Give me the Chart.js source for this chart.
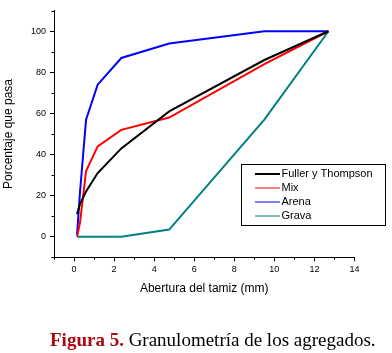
<!DOCTYPE html>
<html>
<head>
<meta charset="utf-8">
<script src="https://cdn.jsdelivr.net/npm/chart.js@4.4.1/dist/chart.umd.min.js"></script>
<style>
html,body{margin:0;padding:0;background:#fff;}
#wrap{position:relative;width:392px;height:353px;overflow:hidden;}
#c{display:block;position:absolute;left:0;top:0;}
#cap{position:absolute;left:50px;top:330px;white-space:nowrap;font-family:"Liberation Serif","Times New Roman",serif;font-size:19px;line-height:19px;color:#000;}
#cap b{color:#aa0a14;}
</style>
</head>
<body>
<div id="wrap">
<canvas id="c" width="392" height="353"></canvas>
<div id="cap"><b>Figura 5.</b> Granulometría de los agregados.</div>
</div>
<script>
// Sieve openings (mm)
const sieveSizes = [0.15, 0.3, 0.6, 1.18, 2.36, 4.75, 9.5, 12.7];
// Percent passing per series
const fullerThompson = [11, 16, 22, 31, 43, 61, 86, 100];
const mix            = [0, 7, 32, 44, 52, 58, 84, 100];
const arena          = [1, 22, 57, 74, 87, 94, 100, 100];
const grava          = [0, 0, 0, 0, 0, 3.5, 57, 100];
const seriesLabels = ["Fuller y Thompson", "Mix", "Arena", "Grava"];
// Tick labels
const xTickValues = [0, 2, 4, 6, 8, 10, 12, 14];
const yTickValues = [0, 20, 40, 60, 80, 100];
const xMinorTicks = [-1, 1, 3, 5, 7, 9, 11, 13];
const yMinorTicks = [-10, 10, 30, 50, 70, 90, 110];

const colors = ["#000000", "#ff0000", "#0000ff", "#008080"];
const legendWidths = [2, 1, 1, 1];
const seriesValues = [fullerThompson, mix, arena, grava];

const datasets = seriesValues.map((vals, i) => ({
  label: seriesLabels[i],
  data: sieveSizes.map((x, j) => ({x: x, y: vals[j]})),
  borderColor: colors[i],
  backgroundColor: colors[i],
  borderWidth: 2,
  pointRadius: 0,
  tension: 0,
  fill: false
}));

const FONT = "'Liberation Sans', Arial, sans-serif";

const extras = {
  id: 'extras',
  afterDraw(chart) {
    const ctx = chart.ctx;
    const xs = chart.scales.x, ys = chart.scales.y;
    const ca = chart.chartArea;
    ctx.save();
    ctx.strokeStyle = '#000';
    ctx.lineWidth = 1;
    // minor ticks
    xMinorTicks.forEach(v => {
      const px = Math.round(xs.getPixelForValue(v)) + 0.5;
      ctx.beginPath();
      ctx.moveTo(px, ca.bottom);
      ctx.lineTo(px, ca.bottom + 2.5);
      ctx.stroke();
    });
    yMinorTicks.forEach(v => {
      const py = Math.round(ys.getPixelForValue(v)) + 0.5;
      ctx.beginPath();
      ctx.moveTo(ca.left - 2.5, py);
      ctx.lineTo(ca.left, py);
      ctx.stroke();
    });
    // legend box
    const bx = 241.5, by = 164.5, bw = 144, bh = 61;
    ctx.fillStyle = '#fff';
    ctx.fillRect(bx, by, bw, bh);
    ctx.strokeRect(bx, by, bw, bh);
    ctx.font = "11px " + FONT;
    ctx.textBaseline = 'middle';
    ctx.textAlign = 'left';
    chart.data.datasets.forEach((ds, i) => {
      const yy = 174 + i * 14;
      ctx.strokeStyle = ds.borderColor;
      ctx.lineWidth = legendWidths[i];
      ctx.beginPath();
      ctx.moveTo(255, yy);
      ctx.lineTo(280, yy);
      ctx.stroke();
      ctx.fillStyle = '#000';
      ctx.fillText(ds.label, 281.5, yy);
    });
    ctx.restore();
  }
};

new Chart(document.getElementById('c'), {
  type: 'line',
  data: { datasets: datasets },
  options: {
    responsive: false,
    animation: false,
    devicePixelRatio: 1,
    layout: { padding: { left: 0, right: 37.5, top: 10.7, bottom: 55.7 } },
    plugins: { legend: { display: false }, tooltip: { enabled: false } },
    scales: {
      x: {
        type: 'linear',
        min: -1, max: 14,
        afterBuildTicks: s => { s.ticks = xTickValues.map(v => ({value: v})); },
        afterFit: s => { s.height = 40; },
        ticks: { color: '#000', font: { family: FONT, size: 9 }, padding: 3, maxRotation: 0, autoSkip: false },
        grid: { drawOnChartArea: false, drawTicks: true, tickLength: 4, tickColor: '#000', tickWidth: 1 },
        border: { display: true, color: '#000', width: 1 },
        title: { display: true, text: 'Abertura del tamiz (mm)', color: '#000', font: { family: FONT, size: 12 }, padding: { top: 0, bottom: 1.1 } }
      },
      y: {
        type: 'linear',
        min: -10, max: 110,
        afterBuildTicks: s => { s.ticks = yTickValues.map(v => ({value: v})); },
        afterFit: s => { s.width = 54; },
        ticks: { color: '#000', font: { family: FONT, size: 9 }, padding: 4, autoSkip: false },
        grid: { drawOnChartArea: false, drawTicks: true, tickLength: 4, tickColor: '#000', tickWidth: 1 },
        border: { display: true, color: '#000', width: 1 },
        title: { display: true, text: 'Porcentaje que pasa', color: '#000', font: { family: FONT, size: 12 }, padding: { top: 1.3, bottom: 0 } }
      }
    }
  },
  plugins: [extras]
});
</script>
</body>
</html>
